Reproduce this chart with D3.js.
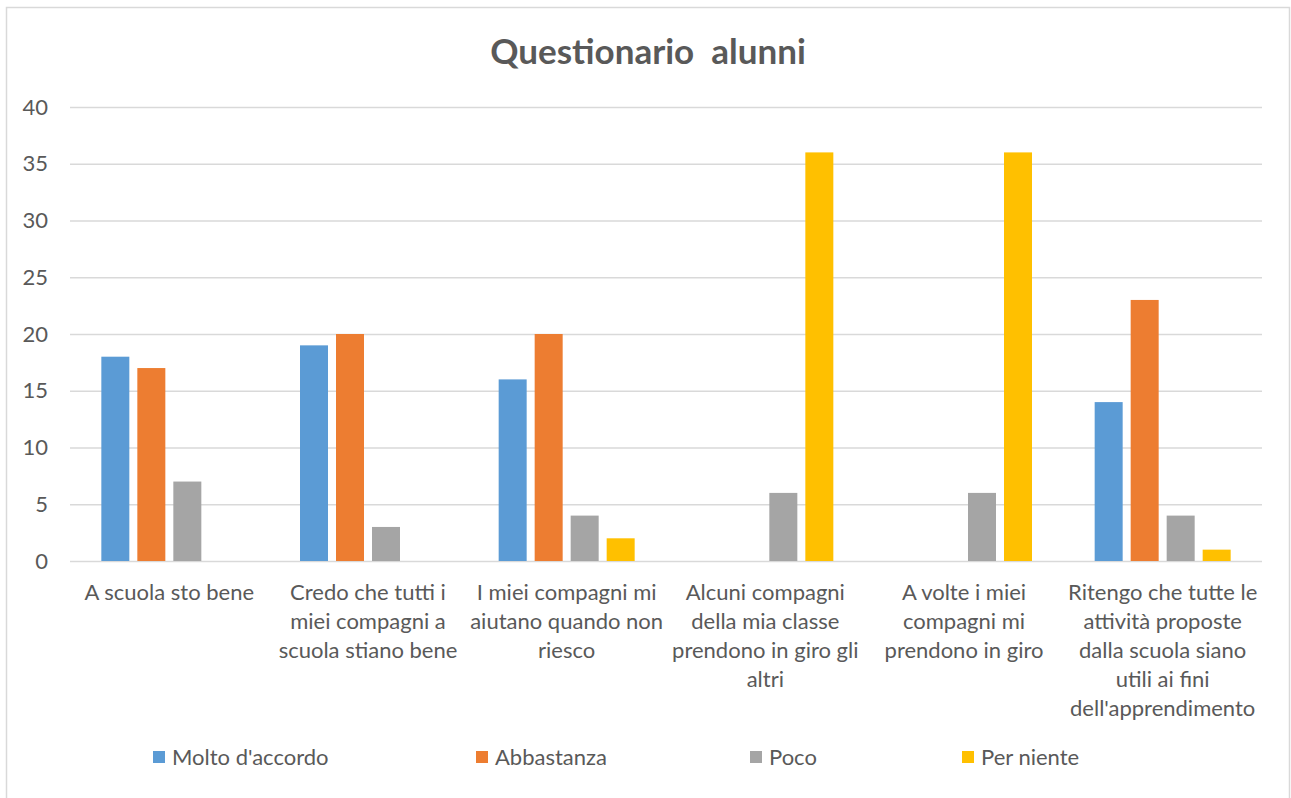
<!DOCTYPE html>
<html><head><meta charset="utf-8">
<script src="https://cdn.jsdelivr.net/npm/d3@7"></script>
<style>body{margin:0;background:#fff}svg{display:block}</style>
</head><body>
<script>
const categories = [
  ["A scuola sto bene"],
  ["Credo che tutti i","miei compagni a","scuola stiano bene"],
  ["I miei compagni mi","aiutano quando non","riesco"],
  ["Alcuni compagni","della mia classe","prendono in giro gli","altri"],
  ["A volte i miei","compagni mi","prendono in giro"],
  ["Ritengo che tutte le","attività proposte","dalla scuola siano","utili ai fini","dell'apprendimento"]
];
const seriesNames = ["Molto d'accordo","Abbastanza","Poco","Per niente"];
const molto = [18,19,16,0,0,14];
const abbastanza = [17,20,20,0,0,23];
const poco = [7,3,4,6,6,4];
const perNiente = [0,0,2,36,36,1];
const yTicks = [0,5,10,15,20,25,30,35,40];
const colors = ["#5b9bd5","#ed7d31","#a5a5a5","#ffc000"];
const chartTitle = "Questionario\u00a0 alunni";

(function(){
const series = [molto, abbastanza, poco, perNiente];
const W = 1291, H = 798;
const font = "Lato, 'Open Sans', sans-serif";
const svg = d3.select("body").append("svg").attr("width", W).attr("height", H);
svg.append("rect").attr("x",6.5).attr("y",7.5).attr("width",1283).attr("height",800)
  .attr("fill","#fff").attr("stroke","#d9d9d9").attr("stroke-width",1.5);

const pL = 70, pR = 1262, pT = 107, pB = 561;
const x = d3.scaleBand().domain(d3.range(categories.length)).range([pL,pR]).paddingInner(0).paddingOuter(0);
const y = d3.scaleLinear().domain([0,40]).range([pB,pT]);
const xs = d3.scaleBand().domain(d3.range(series.length)).range([0,136]).paddingInner(8/36).paddingOuter(0);

svg.append("text").attr("x",648).attr("y",64).attr("text-anchor","middle")
  .attr("font-family",font).attr("font-weight","bold").attr("font-size",35).attr("fill","#595959").text(chartTitle);

const yAxis = svg.append("g").attr("transform",`translate(${pL},0)`)
  .call(d3.axisLeft(y).tickValues(yTicks).tickSize(-(pR-pL)).tickPadding(22).tickFormat(d3.format("d")));
yAxis.select(".domain").remove();
yAxis.selectAll(".tick line").attr("stroke","#d9d9d9").attr("stroke-width",1.3);
yAxis.selectAll(".tick text").attr("font-family",font).attr("font-size",22).attr("fill","#595959");

const g = svg.append("g");
series.forEach((vals, si) => {
  g.selectAll(null).data(vals.map((v,i)=>({v,i})).filter(d=>d.v>0)).enter().append("rect")
    .attr("x", d => x(d.i) + x.bandwidth()/2 - 68 + xs(si))
    .attr("width", xs.bandwidth())
    .attr("y", d => y(d.v))
    .attr("height", d => y(0) - y(d.v))
    .attr("fill", colors[si]);
});

const labels = svg.append("g");
categories.forEach((lines, i) => {
  const t = labels.append("text").attr("text-anchor","middle").attr("font-family",font)
    .attr("font-size",22).attr("fill","#595959");
  lines.forEach((ln, j) => {
    t.append("tspan").attr("x", x(i) + x.bandwidth()/2).attr("y", 600 + j*29).text(ln);
  });
});

const legX = [153, 476, 750, 962];
const leg = svg.append("g");
seriesNames.forEach((n, i) => {
  leg.append("rect").attr("x",legX[i]).attr("y",751).attr("width",12).attr("height",12).attr("fill",colors[i]);
  leg.append("text").attr("x",legX[i]+19).attr("y",765).attr("font-family",font).attr("font-size",22)
    .attr("fill","#595959").text(n);
});
})();
</script>
</body></html>
